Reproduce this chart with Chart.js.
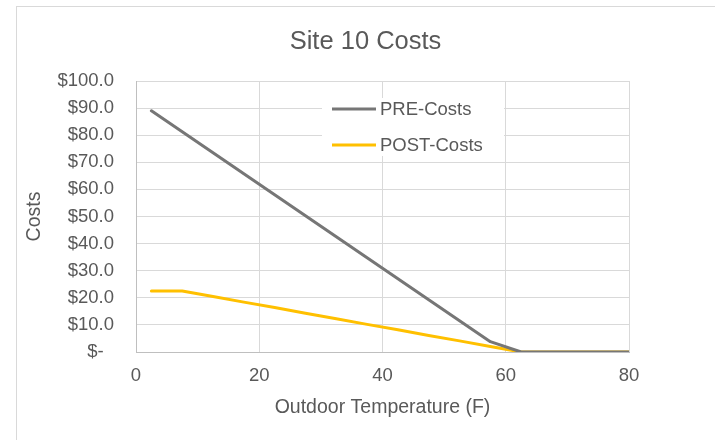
<!DOCTYPE html>
<html>
<head>
<meta charset="utf-8">
<script src="https://cdn.jsdelivr.net/npm/chart.js@4/dist/chart.umd.min.js"></script>
<style>
  html, body { margin: 0; padding: 0; background: #ffffff; }
  #wrap { width: 715px; height: 440px; position: relative; }
</style>
</head>
<body>
<div id="wrap"><canvas id="chart" width="715" height="440"></canvas></div>
<script>
// Outdoor temperature bins (F) and daily costs per bin
const temps = [2.5, 7.5, 12.5, 17.5, 22.5, 27.5, 32.5, 37.5, 42.5, 47.5, 52.5, 57.5, 62.5, 67.5, 72.5, 77.5, 80];
const preCosts = [89.0, 81.3, 73.5, 65.8, 58.0, 50.3, 42.5, 34.8, 27.0, 19.3, 11.5, 3.8, 0, 0, 0, 0, 0];
const postCosts = [22.5, 22.5, 20.5, 18.4, 16.4, 14.3, 12.3, 10.2, 8.2, 6.1, 4.1, 2.0, 0, 0, 0, 0, 0];

const seriesNames = ['PRE-Costs', 'POST-Costs'];
const chartTitle = 'Site 10 Costs';
const xTitle = 'Outdoor Temperature (F)';
const yTitle = 'Costs';

const FONT = "'Liberation Sans', Arial, sans-serif";
const TEXT = '#595959';

function toPoints(xs, ys) {
  return xs.map((x, i) => ({ x: x, y: ys[i] }));
}

// Light outer frame around the whole chart
const framePlugin = {
  id: 'frame',
  beforeDraw(chart) {
    const ctx = chart.ctx;
    ctx.save();
    ctx.fillStyle = '#ffffff';
    ctx.fillRect(0, 0, chart.width, chart.height);
    ctx.strokeStyle = '#d9d9d9';
    ctx.lineWidth = 1;
    ctx.strokeRect(16.5, 6.5, chart.width + 10, chart.height + 10);
    ctx.restore();
  }
};

// Legend drawn inside the plot area, on a white box
const insideLegend = {
  id: 'insideLegend',
  afterDraw(chart) {
    const ctx = chart.ctx;
    const area = chart.chartArea;
    const boxL = area.left + 186, boxT = area.top + 17, boxW = 182, boxH = 58;
    ctx.save();
    ctx.fillStyle = '#ffffff';
    ctx.fillRect(boxL, boxT, boxW, boxH);
    ctx.font = '18.5px ' + FONT;
    ctx.textBaseline = 'middle';
    ctx.textAlign = 'left';
    chart.data.datasets.forEach((ds, i) => {
      const y = boxT + 11 + i * 36;
      ctx.strokeStyle = ds.borderColor;
      ctx.lineWidth = 3;
      ctx.lineCap = 'butt';
      ctx.beginPath();
      ctx.moveTo(boxL + 10, y);
      ctx.lineTo(boxL + 54, y);
      ctx.stroke();
      ctx.fillStyle = TEXT;
      ctx.fillText(ds.label, boxL + 58, y + 1);
    });
    ctx.restore();
  }
};

new Chart(document.getElementById('chart'), {
  type: 'scatter',
  data: {
    datasets: [
      {
        label: seriesNames[0],
        data: toPoints(temps, preCosts),
        showLine: true,
        borderColor: '#767676',
        backgroundColor: '#767676',
        borderWidth: 3,
        pointRadius: 0,
        pointHoverRadius: 0,
        borderCapStyle: 'round',
        borderJoinStyle: 'round'
      },
      {
        label: seriesNames[1],
        data: toPoints(temps, postCosts),
        showLine: true,
        borderColor: '#FFC000',
        backgroundColor: '#FFC000',
        borderWidth: 3,
        pointRadius: 0,
        pointHoverRadius: 0,
        borderCapStyle: 'round',
        borderJoinStyle: 'round'
      }
    ]
  },
  options: {
    responsive: false,
    animation: false,
    events: [],
    layout: { padding: { left: 16, right: 0, top: 6, bottom: 0 } },
    plugins: {
      legend: { display: false },
      tooltip: { enabled: false },
      title: {
        display: true,
        text: chartTitle,
        color: TEXT,
        font: { family: FONT, size: 25.5, weight: 'normal' },
        padding: { top: 20.7, bottom: 23.7 }
      }
    },
    scales: {
      x: {
        type: 'linear',
        min: 0,
        max: 80,
        ticks: {
          stepSize: 20,
          color: TEXT,
          padding: 13,
          maxRotation: 0,
          font: { family: FONT, size: 18.5 }
        },
        grid: { color: '#d9d9d9', lineWidth: 1, drawTicks: false },
        border: { color: '#bfbfbf', width: 1 },
        title: {
          display: true,
          text: xTitle,
          color: TEXT,
          font: { family: FONT, size: 19.5 },
          padding: { top: 0, bottom: 21 }
        },
        afterFit(scale) {
          scale.height = 88;
          scale.paddingRight = 86;
        }
      },
      y: {
        min: 0,
        max: 100,
        ticks: {
          stepSize: 10,
          color: TEXT,
          padding: 22,
          font: { family: FONT, size: 18.5 },
          callback: (v) => v === 0 ? '$-  ' : '$' + Number(v).toFixed(1)
        },
        grid: { color: '#d9d9d9', lineWidth: 1, drawTicks: false },
        border: { color: '#bfbfbf', width: 1 },
        title: {
          display: true,
          text: yTitle,
          color: TEXT,
          font: { family: FONT, size: 19.5 },
          padding: { top: 7, bottom: 0 }
        },
        afterFit(scale) {
          scale.width = 120;
        }
      }
    }
  },
  plugins: [framePlugin, insideLegend]
});
</script>
</body>
</html>
